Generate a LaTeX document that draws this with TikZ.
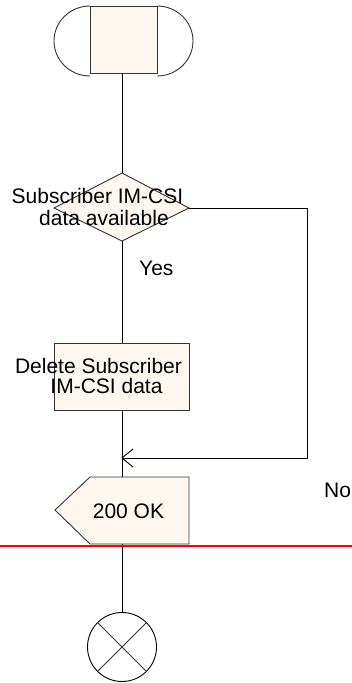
\documentclass[tikz,border=0pt]{standalone}
\usepackage{fontspec}
\setmainfont{Liberation Sans}
\usetikzlibrary{calc}
\tikzset{
  flow/.style={draw=black!80, line width=0.9pt},
  symfill/.style={flow, fill=boxfill},
  lbl/.style={inner sep=0pt, font=\fontsize{21}{22}\selectfont, text=black},
  wire/.style={draw=black, line width=0.9pt},
}
\definecolor{boxfill}{RGB}{253,247,240}
\begin{document}
\begin{tikzpicture}[x=1pt, y=-1pt]
  \useasboundingbox (0,0) rectangle (352,683);

  % start symbol: box with two half-ellipses
  \path[symfill] (90,6) rectangle (157,73);
  \coordinate (startb) at (122,73);
  \draw[flow] (90,6) arc[start angle=-90, end angle=-270, x radius=36, y radius=35];
  \draw[flow] (157,6) arc[start angle=-90, end angle=90, x radius=36, y radius=35];

  % decision
  \path[symfill] (122,173) -- (189,208) -- (122,241) -- (54,208) -- cycle;
  \coordinate (dtop) at (122,173);
  \coordinate (dright) at (189,208);
  \coordinate (dbot) at (122,241);
  \node[lbl, anchor=base] (q1) at (97.5,203) {Subscriber IM-CSI};
  \node[lbl, anchor=base] (q2) at (104,225) {data available};
  \node[lbl, anchor=base west] (yes) at (139,275) {Yes};

  % task
  \path[symfill] (54,343) rectangle (189,410);
  \coordinate (ttop) at (122,343);
  \coordinate (tbot) at (122,410);
  \node[lbl, anchor=base] (t1) at (98.5,373) {Delete Subscriber};
  \node[lbl, anchor=base] (t2) at (106.5,393) {IM-CSI data};

  % output signal
  \path[symfill] (90,477) -- (189,477) -- (189,544) -- (90,544) -- (55,510) -- cycle;
  \coordinate (otop) at (122,477);
  \coordinate (obot) at (122,544);
  \node[lbl, anchor=base] (ok) at (128.5,518) {200 OK};

  % stop symbol
  \node[draw=black, line width=0.9pt, circle, minimum size=69pt, inner sep=0pt] (stop) at (122,647) {};
  \draw[flow] (stop.north west) -- (stop.south east);
  \draw[flow] (stop.north east) -- (stop.south west);

  % "No" branch
  \node[lbl, anchor=base west] (no) at (324,497) {No};
  \coordinate (corner1) at (307,208);
  \coordinate (corner2) at (307,458);
  \coordinate (join) at (122,458);

  % connectors
  \draw[wire] (startb) -- (dtop);
  \draw[wire] (dbot) -- (ttop);
  \draw[wire] (tbot) -- (otop);
  \draw[wire] (obot) -- (stop.north);
  \draw[wire] (dright) -- (corner1) -- (corner2) -- (join);
  \draw[wire] ($(join)+(11,-9)$) -- (join) -- ($(join)+(11,9)$);

  % red separator
  \draw[red, line width=1.8pt] (0,546) -- (352,546);
\end{tikzpicture}
\end{document}
